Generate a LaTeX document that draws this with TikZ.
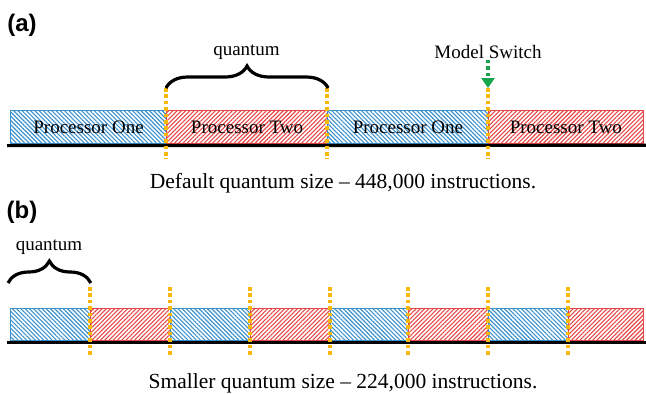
\documentclass[tikz,border=0pt]{standalone}
\usepackage{fontspec}
\setmainfont{Liberation Serif}
\newfontfamily\panelfont{Liberation Sans}
\usepackage{xcolor}
\usetikzlibrary{arrows.meta,positioning,calc,patterns.meta,decorations.pathreplacing}
\definecolor{oneblue}{RGB}{60,145,205}
\definecolor{twored}{RGB}{230,70,70}
\definecolor{quantumgold}{RGB}{250,185,10}
\definecolor{switchgreen}{RGB}{25,165,75}

\begin{document}
\begin{tikzpicture}[x=1pt,y=-1pt,
    procone/.style={draw=oneblue,line width=0.8pt,anchor=north west,
      pattern={Lines[angle=-45,distance=3pt,line width=1.1pt]},pattern color=oneblue,
      minimum height=33pt,inner sep=0pt,font=\fontsize{19}{22}\selectfont},
    proctwo/.style={procone,draw=twored,
      pattern={Lines[angle=45,distance=3pt,line width=1.1pt]},pattern color=twored},
    qline/.style={quantumgold,line width=3.8pt,dash pattern=on 3.6pt off 2.8pt},
    qbrace/.style={decorate,decoration={brace,amplitude=22pt},line width=3.2pt},
    switcharrow/.style={switchgreen,line width=3.6pt,dash pattern=on 3.6pt off 2.8pt,
      -{Triangle[width=13pt,length=10pt]}},
    groundline/.style={black,line width=3.2pt},
    note/.style={font=\fontsize{19}{22}\selectfont,inner sep=1pt},
    caption/.style={font=\fontsize{21.5}{24}\selectfont},
    panel/.style={font=\panelfont\bfseries\fontsize{24}{28}\selectfont}
  ]
    \useasboundingbox (0,0) rectangle (646,394);

    % (a) default quantum
    \node[panel] (pa) at (22,25) {(a)};
    \node[procone,minimum width=156pt] (s1) at (10,110) {Processor One};
    \node[proctwo,minimum width=161pt] (s2) at (166,110) {Processor Two};
    \node[procone,minimum width=161pt] (s3) at (327,110) {Processor One};
    \node[proctwo,minimum width=155pt] (s4) at (488,110) {Processor Two};
    \draw[groundline] ([shift={(-3pt,-1.5pt)}]s1.south west)
      -- ([shift={(3pt,-1.5pt)}]s4.south east);
    \foreach \s in {s2,s3,s4}
      \draw[qline] ([yshift=22pt]\s.north west) -- ([yshift=-15pt]\s.south west);
    \draw[qbrace] ([yshift=22pt]s2.north west) -- ([yshift=22pt]s2.north east);
    \node[note] (qa) at (246.5,52) {quantum};
    \node[note] (msw) at (488,52) {Model Switch};
    \draw[switcharrow] (msw.south) -- ([yshift=22pt]s4.north west);
    \node[caption] (capa) at (343,183) {Default quantum size -- 448,000 instructions.};

    % (b) smaller quantum
    \node[panel] (pb) at (22,212) {(b)};
    \foreach \x/\w/\s [count=\i] in {10/80/procone,90/80/proctwo,170/80/procone,
        250/80/proctwo,330/78/procone,408/80/proctwo,488/80/procone,568/75/proctwo}
      \node[\s,minimum width=\w pt,minimum height=32pt] (b\i) at (\x,308) {};
    \draw[groundline] ([shift={(-3pt,-1.5pt)}]b1.south west)
      -- ([shift={(3pt,-1.5pt)}]b8.south east);
    \foreach \i in {2,...,8}
      \draw[qline] ([yshift=21pt]b\i.north west) -- ([yshift=-15pt]b\i.south west);
    \draw[qbrace] ([shift={(-2pt,25pt)}]b1.north west) -- ([yshift=25pt]b1.north east);
    \node[note] (qb) at (49,247) {quantum};
    \node[caption] (capb) at (343,383) {Smaller quantum size -- 224,000 instructions.};
\end{tikzpicture}
\end{document}
